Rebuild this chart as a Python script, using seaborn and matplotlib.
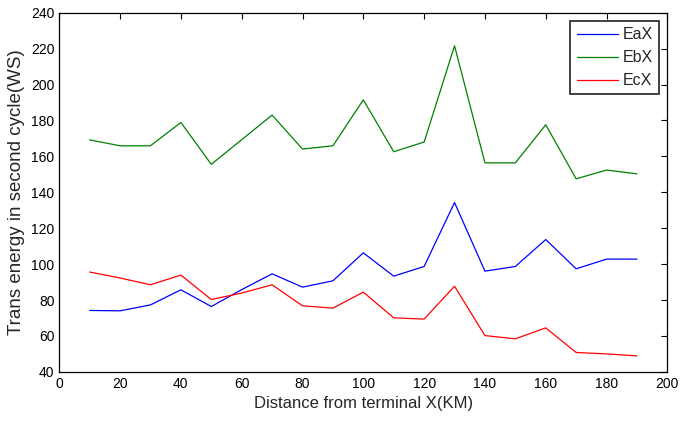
import matplotlib
matplotlib.use("Agg")
import matplotlib.pyplot as plt
import seaborn as sns
import pandas as pd

distance = [10, 20, 30, 40, 50, 60, 70, 80, 90, 100, 110, 120, 130, 140, 150, 160, 170, 180, 190]
eax = [74.2, 74.0, 77.3, 85.7, 76.4, 85.8, 94.6, 87.2, 90.7, 106.3, 93.3, 98.7, 134.3, 96.1, 98.7, 113.7, 97.4, 102.8, 102.8]
ebx = [169.2, 165.9, 165.9, 178.9, 155.6, 169.3, 183.0, 164.1, 165.9, 191.5, 162.6, 168.0, 221.6, 156.4, 156.4, 177.6, 147.5, 152.4, 150.3]
ecx = [95.6, 92.3, 88.5, 93.9, 80.3, 83.9, 88.5, 76.8, 75.5, 84.4, 70.1, 69.4, 87.7, 60.2, 58.4, 64.5, 50.8, 50.0, 48.9]
series_names = ["EaX", "EbX", "EcX"]
colors = ["#0000ff", "#008000", "#ff0000"]
x_ticks = [0, 20, 40, 60, 80, 100, 120, 140, 160, 180, 200]
y_ticks = [40, 60, 80, 100, 120, 140, 160, 180, 200, 220, 240]

sns.set_style("white")
plt.rcParams["font.family"] = ["Liberation Sans", "DejaVu Sans"]

df = pd.DataFrame({"Distance": distance * 3,
                   "Energy": eax + ebx + ecx,
                   "Series": [series_names[0]] * len(distance) + [series_names[1]] * len(distance) + [series_names[2]] * len(distance)})

fig = plt.figure(figsize=(6.81, 4.25), dpi=100)
ax = fig.add_axes([0.087, 0.125, 0.893, 0.845])
sns.lineplot(data=df, x="Distance", y="Energy", hue="Series", palette=colors, ax=ax, linewidth=0.9, legend=True)

ax.set_xlim(0, 200)
ax.set_ylim(40, 240)
ax.set_xticks(x_ticks)
ax.set_yticks(y_ticks)
ax.tick_params(direction="in", length=4, width=0.8, labelsize=10, top=True, right=True, colors="black")
for s in ax.spines.values():
    s.set_visible(True)
    s.set_color("black")
    s.set_linewidth(0.9)
ax.set_xlabel("Distance from terminal X(KM)", fontsize=12)
ax.set_ylabel("Trans energy in second cycle(WS)", fontsize=13.5)

leg = ax.legend(loc="upper right", fontsize=11.5, frameon=True, fancybox=False, edgecolor="black",
                handlelength=2.6, handletextpad=0.3, borderpad=0.4, labelspacing=0.5,
                borderaxespad=0.5)
leg.get_frame().set_linewidth(1.3)

fig.savefig("out.png", dpi=100)
